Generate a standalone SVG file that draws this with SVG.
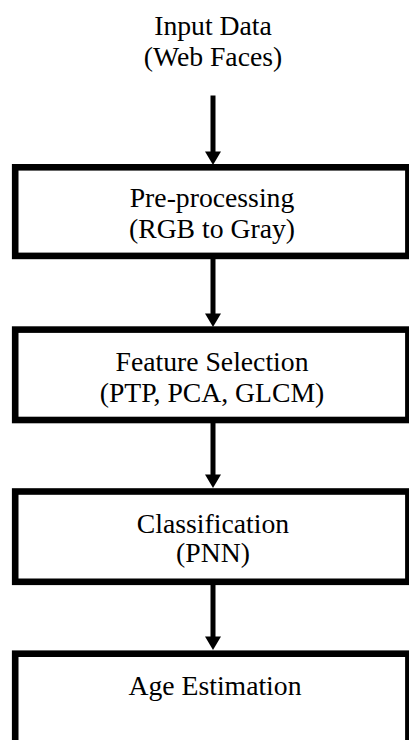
<svg xmlns="http://www.w3.org/2000/svg" width="409" height="740" viewBox="0 0 409 740">
<style>
.box{fill:#fff;stroke:#000;stroke-width:6.6}
.t{font-family:"Liberation Serif","Times New Roman",serif;font-size:27.7px;fill:#000;text-anchor:middle}
.shaft{stroke:#000;stroke-width:5;fill:none}
.head{fill:#000}
</style>
<rect width="409" height="740" fill="#fff"/>
<g id="input">
<text class="t" x="213" y="35">Input Data</text>
<text class="t" x="213" y="66">(Web Faces)</text>
</g>
<g id="preprocessing">
<rect class="box" x="15.2" y="167.3" width="393.2" height="88.6"/>
<text class="t" x="212" y="206.5">Pre-processing</text>
<text class="t" x="212" y="238">(RGB to Gray)</text>
</g>
<g id="feature-selection">
<rect class="box" x="15.2" y="329.6" width="393.2" height="90.4"/>
<text class="t" x="212" y="370.5">Feature Selection</text>
<text class="t" x="212" y="402">(PTP, PCA, GLCM)</text>
</g>
<g id="classification">
<rect class="box" x="15.2" y="491.5" width="393.2" height="90.3"/>
<text class="t" x="213" y="533">Classification</text>
<text class="t" x="213" y="561.5">(PNN)</text>
</g>
<g id="age-estimation">
<rect class="box" x="15.2" y="653.7" width="393.2" height="100"/>
<text class="t" x="215" y="695">Age Estimation</text>
</g>
<g id="connectors">
<line class="shaft" x1="213" y1="95.5" x2="213" y2="153"/>
<polygon class="head" points="205,151.5 221,151.5 213,165"/>
<line class="shaft" x1="213" y1="259" x2="213" y2="315"/>
<polygon class="head" points="205,313.5 221,313.5 213,327"/>
<line class="shaft" x1="213" y1="423" x2="213" y2="476"/>
<polygon class="head" points="205,474.5 221,474.5 213,488"/>
<line class="shaft" x1="213" y1="585" x2="213" y2="638"/>
<polygon class="head" points="205,636.5 221,636.5 213,650"/>
</g>
</svg>
